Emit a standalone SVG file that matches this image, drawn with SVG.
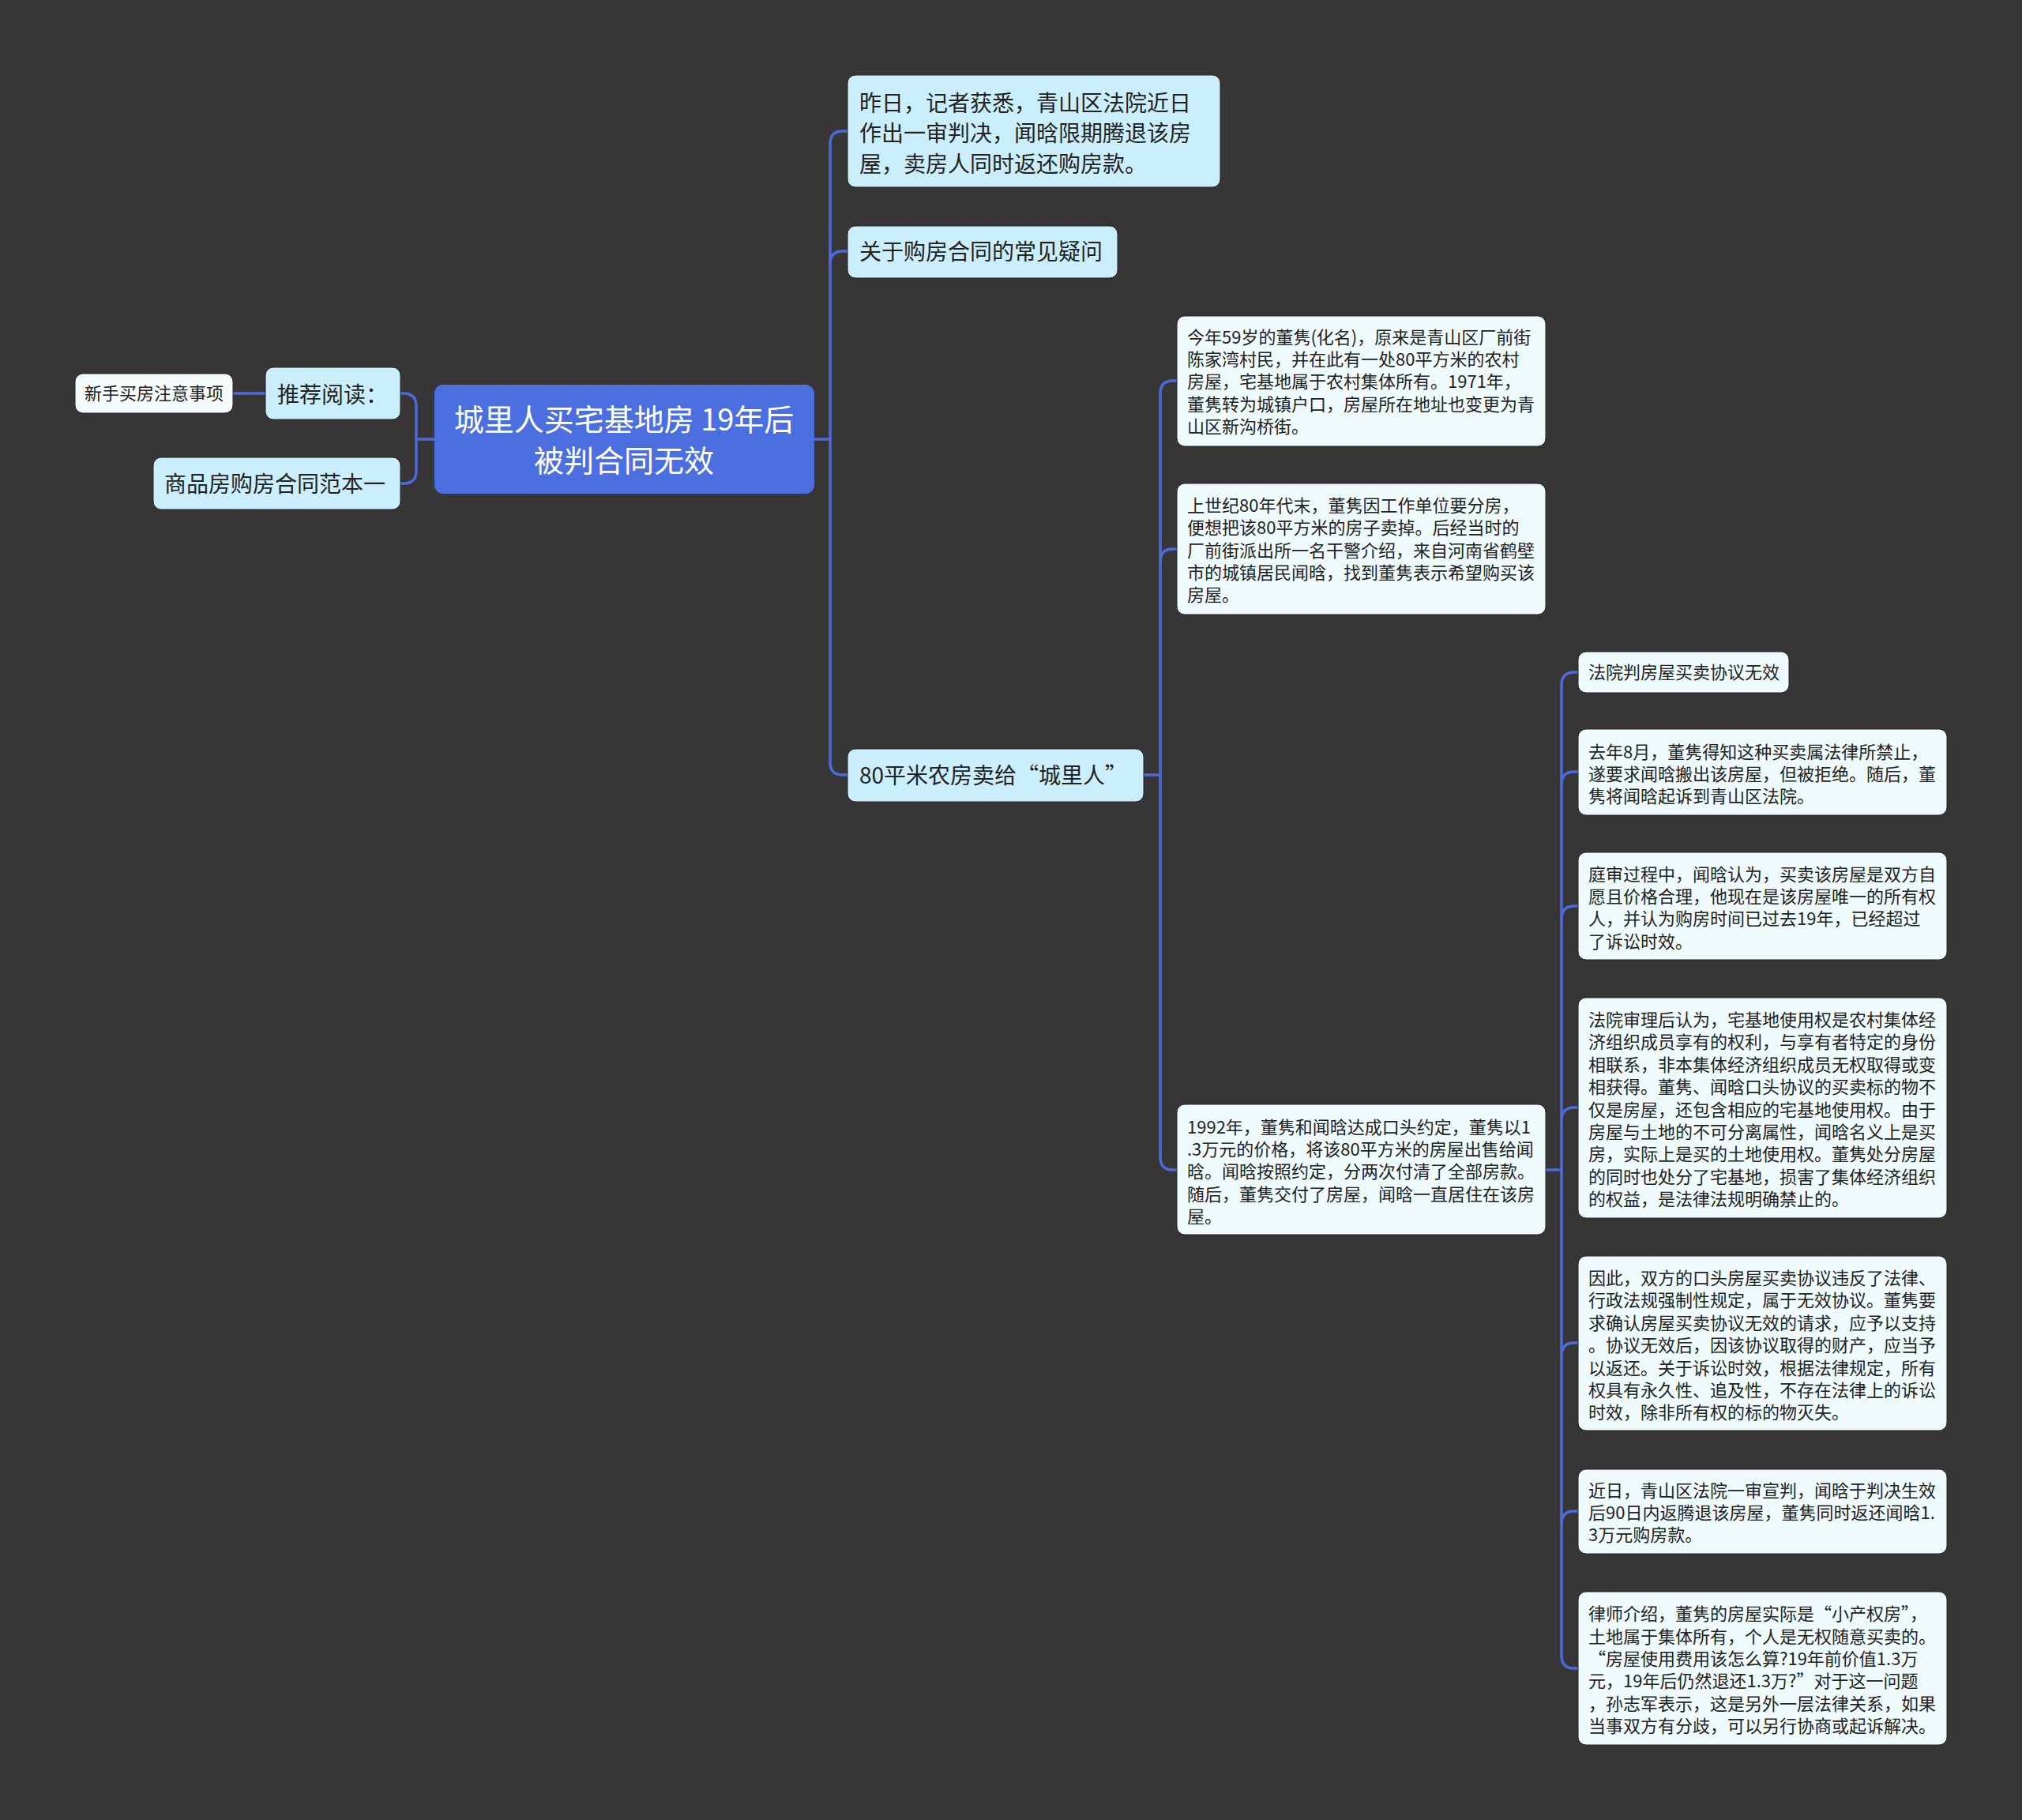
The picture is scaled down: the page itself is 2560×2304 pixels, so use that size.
<svg xmlns="http://www.w3.org/2000/svg" width="2560" height="2304" viewBox="0 0 2560 2304">
<style>
.bg{fill:#373536}
.root{fill:#4c6fdf}
.l1{fill:#cbeefc;stroke:#262626;stroke-width:1}
.l2{fill:#effafd;stroke:#262626;stroke-width:1}
.lw{fill:#f6fcfe;stroke:#262626;stroke-width:1}
text{font-family:"Noto Sans CJK SC","Noto Sans",sans-serif;fill:#222222}
.tr{fill:#ffffff;font-size:38px}
.t28{font-size:28px}
.t22{font-size:22px}
.conn path{fill:none;stroke:#4d6ad9;stroke-width:3.5;stroke-linecap:round}
</style>
<rect class="bg" x="0" y="0" width="2560" height="2304"/>

<g class="conn" id="connectors">
  <!-- left -->
  <path d="M550,556 H527 V514 Q527,498 511,498 H507"/>
  <path d="M527,556 V596 Q527,612 511,612 H507"/>
  <path d="M336,498 H295"/>
  <!-- right level 1 -->
  <path d="M1031,556 H1051 V182 Q1051,166 1067,166 H1073"/>
  <path d="M1051,334 Q1051,318 1067,318 H1073"/>
  <path d="M1051,556 V965 Q1051,981 1067,981 H1073"/>
  <!-- level 2 -->
  <path d="M1448,981 H1469 V498 Q1469,482 1485,482 H1490"/>
  <path d="M1469,711 Q1469,695 1485,695 H1490"/>
  <path d="M1469,981 V1465 Q1469,1481 1485,1481 H1490"/>
  <!-- level 3 -->
  <path d="M1957,1481 H1977 V867 Q1977,851 1993,851 H1998"/>
  <path d="M1977,993 Q1977,977 1993,977 H1998"/>
  <path d="M1977,1163 Q1977,1147 1993,1147 H1998"/>
  <path d="M1977,1418 Q1977,1402 1993,1402 H1998"/>
  <path d="M1977,1716 Q1977,1700 1993,1700 H1998"/>
  <path d="M1977,1929 Q1977,1913 1993,1913 H1998"/>
  <path d="M1977,1481 V2096 Q1977,2112 1993,2112 H1998"/>
</g>

<g id="root">
  <rect class="root" x="550" y="487" width="481" height="138" rx="11"/>
  <text class="tr" x="790" y="545" text-anchor="middle">城里人买宅基地房 19年后</text>
  <text class="tr" x="790" y="597" text-anchor="middle">被判合同无效</text>
</g>

<g id="n-tuijian">
  <rect class="l1" x="336" y="465" width="171" height="66" rx="10"/>
  <text class="t28" x="351" y="510">推荐阅读：</text>
</g>
<g id="n-xinshou">
  <rect class="lw" x="95" y="473" width="200" height="50" rx="10"/>
  <text class="t22" x="107" y="506">新手买房注意事项</text>
</g>
<g id="n-shangpin">
  <rect class="l1" x="194" y="579" width="313" height="66" rx="10"/>
  <text class="t28" x="208" y="623">商品房购房合同范本一</text>
</g>

<g id="n-zuori">
  <rect class="l1" x="1073" y="95" width="472" height="142" rx="10"/>
  <text class="t28" x="1088" y="141">昨日，记者获悉，青山区法院近日</text>
  <text class="t28" x="1088" y="179">作出一审判决，闻晗限期腾退该房</text>
  <text class="t28" x="1088" y="218">屋，卖房人同时返还购房款。</text>
</g>
<g id="n-guanyu">
  <rect class="l1" x="1073" y="286" width="342" height="66" rx="10"/>
  <text class="t28" x="1088" y="329">关于购房合同的常见疑问</text>
</g>
<g id="n-80">
  <rect class="l1" x="1073" y="948" width="375" height="67" rx="10"/>
  <text class="t28" x="1088" y="992">80平米农房卖给“城里人”</text>
</g>

<g id="n-a">
  <rect class="l2" x="1490" y="400" width="467" height="165" rx="10"/>
  <text class="t22" x="1503" y="435">今年59岁的董隽(化名)，原来是青山区厂前街</text>
  <text class="t22" x="1503" y="463">陈家湾村民，并在此有一处80平方米的农村</text>
  <text class="t22" x="1503" y="491">房屋，宅基地属于农村集体所有。1971年，</text>
  <text class="t22" x="1503" y="520">董隽转为城镇户口，房屋所在地址也变更为青</text>
  <text class="t22" x="1503" y="548">山区新沟桥街。</text>
</g>
<g id="n-b">
  <rect class="l2" x="1490" y="612" width="467" height="166" rx="10"/>
  <text class="t22" x="1503" y="648">上世纪80年代末，董隽因工作单位要分房，</text>
  <text class="t22" x="1503" y="676">便想把该80平方米的房子卖掉。后经当时的</text>
  <text class="t22" x="1503" y="705">厂前街派出所一名干警介绍，来自河南省鹤壁</text>
  <text class="t22" x="1503" y="733">市的城镇居民闻晗，找到董隽表示希望购买该</text>
  <text class="t22" x="1503" y="761">房屋。</text>
</g>
<g id="n-c">
  <rect class="l2" x="1490" y="1398" width="467" height="165" rx="10"/>
  <text class="t22" x="1503" y="1435">1992年，董隽和闻晗达成口头约定，董隽以1</text>
  <text class="t22" x="1503" y="1463">.3万元的价格，将该80平方米的房屋出售给闻</text>
  <text class="t22" x="1503" y="1491">晗。闻晗按照约定，分两次付清了全部房款。</text>
  <text class="t22" x="1503" y="1520">随后，董隽交付了房屋，闻晗一直居住在该房</text>
  <text class="t22" x="1503" y="1548">屋。</text>
</g>

<g id="n-c1">
  <rect class="l2" x="1998" y="825" width="267" height="52" rx="10"/>
  <text class="t22" x="2011" y="859">法院判房屋买卖协议无效</text>
</g>
<g id="n-c2">
  <rect class="l2" x="1998" y="923" width="467" height="109" rx="10"/>
  <text class="t22" x="2011" y="960">去年8月，董隽得知这种买卖属法律所禁止，</text>
  <text class="t22" x="2011" y="988">遂要求闻晗搬出该房屋，但被拒绝。随后，董</text>
  <text class="t22" x="2011" y="1016">隽将闻晗起诉到青山区法院。</text>
</g>
<g id="n-c3">
  <rect class="l2" x="1998" y="1079" width="467" height="136" rx="10"/>
  <text class="t22" x="2011" y="1115">庭审过程中，闻晗认为，买卖该房屋是双方自</text>
  <text class="t22" x="2011" y="1143">愿且价格合理，他现在是该房屋唯一的所有权</text>
  <text class="t22" x="2011" y="1171">人，并认为购房时间已过去19年，已经超过</text>
  <text class="t22" x="2011" y="1200">了诉讼时效。</text>
</g>
<g id="n-c4">
  <rect class="l2" x="1998" y="1263" width="467" height="279" rx="10"/>
  <text class="t22" x="2011" y="1299">法院审理后认为，宅基地使用权是农村集体经</text>
  <text class="t22" x="2011" y="1327">济组织成员享有的权利，与享有者特定的身份</text>
  <text class="t22" x="2011" y="1356">相联系，非本集体经济组织成员无权取得或变</text>
  <text class="t22" x="2011" y="1384">相获得。董隽、闻晗口头协议的买卖标的物不</text>
  <text class="t22" x="2011" y="1413">仅是房屋，还包含相应的宅基地使用权。由于</text>
  <text class="t22" x="2011" y="1441">房屋与土地的不可分离属性，闻晗名义上是买</text>
  <text class="t22" x="2011" y="1469">房，实际上是买的土地使用权。董隽处分房屋</text>
  <text class="t22" x="2011" y="1498">的同时也处分了宅基地，损害了集体经济组织</text>
  <text class="t22" x="2011" y="1526">的权益，是法律法规明确禁止的。</text>
</g>
<g id="n-c5">
  <rect class="l2" x="1998" y="1590" width="467" height="221" rx="10"/>
  <text class="t22" x="2011" y="1626">因此，双方的口头房屋买卖协议违反了法律、</text>
  <text class="t22" x="2011" y="1654">行政法规强制性规定，属于无效协议。董隽要</text>
  <text class="t22" x="2011" y="1683">求确认房屋买卖协议无效的请求，应予以支持</text>
  <text class="t22" x="2011" y="1711">。协议无效后，因该协议取得的财产，应当予</text>
  <text class="t22" x="2011" y="1740">以返还。关于诉讼时效，根据法律规定，所有</text>
  <text class="t22" x="2011" y="1768">权具有永久性、追及性，不存在法律上的诉讼</text>
  <text class="t22" x="2011" y="1796">时效，除非所有权的标的物灭失。</text>
</g>
<g id="n-c6">
  <rect class="l2" x="1998" y="1860" width="467" height="107" rx="10"/>
  <text class="t22" x="2011" y="1895">近日，青山区法院一审宣判，闻晗于判决生效</text>
  <text class="t22" x="2011" y="1923">后90日内返腾退该房屋，董隽同时返还闻晗1.</text>
  <text class="t22" x="2011" y="1951">3万元购房款。</text>
</g>
<g id="n-c7">
  <rect class="l2" x="1998" y="2015" width="467" height="194" rx="10"/>
  <text class="t22" x="2011" y="2051">律师介绍，董隽的房屋实际是“小产权房”，</text>
  <text class="t22" x="2011" y="2080">土地属于集体所有，个人是无权随意买卖的。</text>
  <text class="t22" x="2011" y="2108">“房屋使用费用该怎么算?19年前价值1.3万</text>
  <text class="t22" x="2011" y="2136">元，19年后仍然退还1.3万?”对于这一问题</text>
  <text class="t22" x="2011" y="2165">，孙志军表示，这是另外一层法律关系，如果</text>
  <text class="t22" x="2011" y="2193">当事双方有分歧，可以另行协商或起诉解决。</text>
</g>
</svg>
